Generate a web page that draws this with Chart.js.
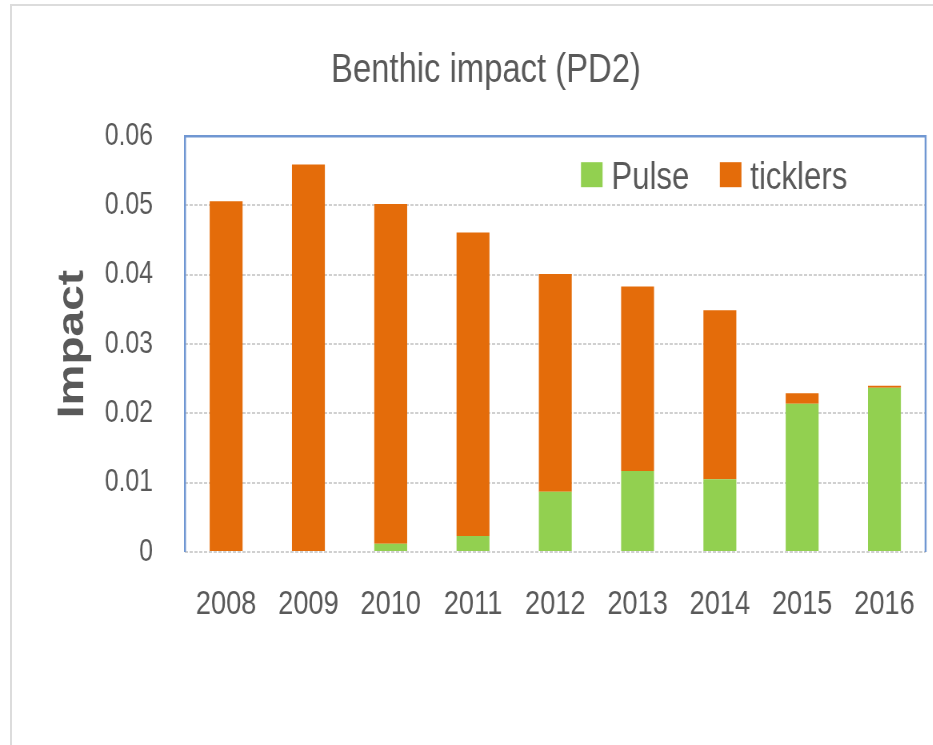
<!DOCTYPE html>
<html>
<head>
<meta charset="utf-8">
<script src="https://cdn.jsdelivr.net/npm/chart.js@4.4.0/dist/chart.umd.min.js"></script>
<style>
  html, body { margin: 0; padding: 0; background: #fff; overflow: hidden; width: 933px; height: 745px; }
  #frame { position: absolute; left: 10px; top: 4px; width: 940px; height: 760px;
           border-left: 2px solid #dcdcdc; border-top: 2px solid #dcdcdc; }
  /* the source picture is horizontally squeezed, so draw wider and squeeze */
  #wrap { position: absolute; left: 0; top: 0; width: 1215px; height: 745px;
          transform: scaleX(0.8); transform-origin: 0 0; }
</style>
</head>
<body>
<div id="frame"></div>
<div id="wrap"><canvas id="chart"></canvas></div>
<script>
const years = ['2008', '2009', '2010', '2011', '2012', '2013', '2014', '2015', '2016'];
const pulse = [0, 0, 0.0012, 0.0023, 0.0087, 0.0117, 0.0105, 0.0214, 0.0237];
const ticklers = [0.0506, 0.0559, 0.0490, 0.0438, 0.0314, 0.0266, 0.0244, 0.0015, 0.0003];

const FONT = "'Liberation Sans', Arial, sans-serif";
const GREY = '#595959';

// blue frame round the plot area (top, left, right)
const plotBorder = {
  id: 'plotBorder',
  afterDatasetsDraw(chart) {
    const { ctx, chartArea: a } = chart;
    ctx.save();
    ctx.strokeStyle = '#7097d2';
    ctx.lineWidth = 2.5;
    ctx.beginPath();
    ctx.moveTo(a.left, a.bottom);
    ctx.lineTo(a.left, a.top);
    ctx.lineTo(a.right, a.top);
    ctx.lineTo(a.right, a.bottom);
    ctx.stroke();
    ctx.restore();
  }
};

// legend sits inside the plot, top right
const innerLegend = {
  id: 'innerLegend',
  afterDraw(chart) {
    const { ctx, chartArea: a } = chart;
    ctx.save();
    ctx.font = '39px ' + FONT;
    ctx.textBaseline = 'alphabetic';
    let x = a.left + 495;
    const boxTop = a.top + 26, baseline = a.top + 53;
    chart.data.datasets.forEach(ds => {
      ctx.fillStyle = ds.backgroundColor;
      ctx.fillRect(x, boxTop, 27, 25);
      x += 38;
      ctx.fillStyle = GREY;
      ctx.fillText(ds.label, x, baseline);
      x += ctx.measureText(ds.label).width + 38;
    });
    ctx.restore();
  }
};

new Chart(document.getElementById('chart'), {
  type: 'bar',
  data: {
    labels: years,
    datasets: [
      { label: 'Pulse', data: pulse, backgroundColor: '#92d050', barPercentage: 0.4, categoryPercentage: 1 },
      { label: 'ticklers', data: ticklers, backgroundColor: '#e46c0a', barPercentage: 0.4, categoryPercentage: 1 }
    ]
  },
  options: {
    responsive: true,
    maintainAspectRatio: false,
    animation: false,
    layout: { padding: 0 },
    plugins: {
      legend: { display: false },
      tooltip: { enabled: false },
      title: {
        display: true,
        text: 'Benthic impact (PD2)',
        color: GREY,
        font: { family: FONT, size: 41, weight: 'normal' },
        padding: { top: 46, bottom: 41 }
      }
    },
    scales: {
      x: {
        stacked: true,
        grid: { display: false, drawTicks: false },
        border: { display: false },
        ticks: { color: GREY, padding: 32, font: { family: FONT, size: 34 } },
        afterFit: s => { s.height = 193; }
      },
      y: {
        stacked: true,
        min: 0,
        max: 0.06,
        grid: { color: '#d0d0d0', lineWidth: 2, drawTicks: false },
        border: { display: false, dash: [4, 2] },
        ticks: {
          stepSize: 0.01,
          color: GREY,
          padding: 40,
          font: { family: FONT, size: 31 },
          callback: v => v === 0 ? '0' : v.toFixed(2)
        },
        title: {
          display: true,
          text: 'Impact',
          color: GREY,
          font: { family: FONT, size: 46, weight: 'bold' },
          padding: { top: 64, bottom: 0 }
        },
        afterFit: s => { s.width = 231.25; }
      },
      // empty strip on the right so the title stays centred on the whole chart
      spacer: {
        type: 'linear',
        position: 'right',
        grid: { display: false, drawTicks: false },
        border: { display: false },
        ticks: { display: false },
        afterFit: s => { s.width = 58; }
      }
    }
  },
  plugins: [plotBorder, innerLegend]
});
</script>
</body>
</html>
